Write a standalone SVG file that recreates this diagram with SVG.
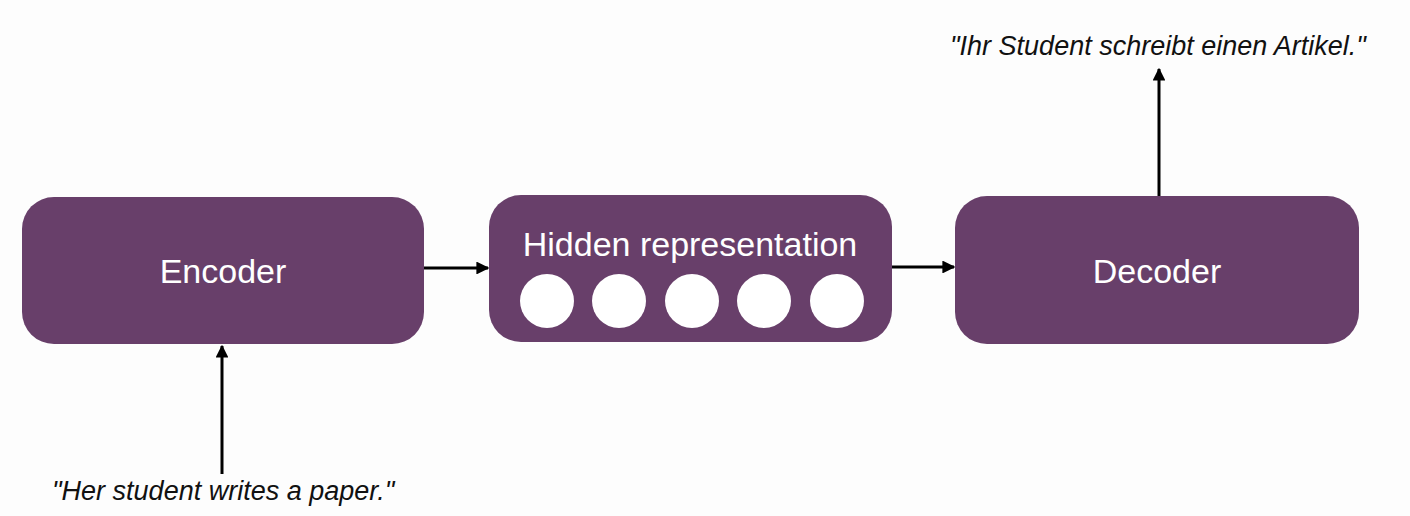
<svg xmlns="http://www.w3.org/2000/svg" width="1410" height="516" viewBox="0 0 1410 516">
<style>
.box{fill:#683f6a}
.lbl{font-family:"Liberation Sans",Arial,sans-serif;fill:#ffffff;text-anchor:middle;font-size:34px}
.cap{font-family:"Liberation Sans",Arial,sans-serif;font-style:italic;fill:#111111;font-size:27px}
.con{stroke:#000;stroke-width:3;fill:none;marker-end:url(#ah)}
</style>
<defs>
<marker id="ah" viewBox="0 0 10 10" refX="9" refY="5" markerWidth="4.3" markerHeight="4.3" orient="auto" markerUnits="strokeWidth">
<path d="M0,0 L10,5 L0,10 Z" fill="#000"/>
</marker>
</defs>
<rect width="1410" height="516" fill="#fdfdfd"/>
<g id="encoder">
<rect class="box" x="22" y="197" width="402" height="147" rx="32"/>
<text class="lbl" x="223" y="283">Encoder</text>
</g>
<g id="hidden">
<rect class="box" x="489" y="195" width="403" height="147" rx="32"/>
<text class="lbl" x="690" y="256">Hidden representation</text>
<circle cx="547" cy="301" r="27" fill="#fff"/>
<circle cx="619" cy="301" r="27" fill="#fff"/>
<circle cx="692" cy="301" r="27" fill="#fff"/>
<circle cx="764" cy="301" r="27" fill="#fff"/>
<circle cx="837" cy="301" r="27" fill="#fff"/>
</g>
<g id="decoder">
<rect class="box" x="955" y="196" width="404" height="148" rx="32"/>
<text class="lbl" x="1157" y="283">Decoder</text>
</g>
<g id="input">
<text class="cap" x="52" y="500">"Her student writes a paper."</text>
</g>
<g id="output">
<text class="cap" x="950" y="55">"Ihr Student schreibt einen Artikel."</text>
</g>
<g id="connectors">
<line class="con" x1="424" y1="268" x2="488" y2="268"/>
<line class="con" x1="892" y1="267" x2="954" y2="267"/>
<line class="con" x1="222" y1="474" x2="222" y2="346"/>
<line class="con" x1="1159" y1="196" x2="1159" y2="69"/>
</g>
</svg>
